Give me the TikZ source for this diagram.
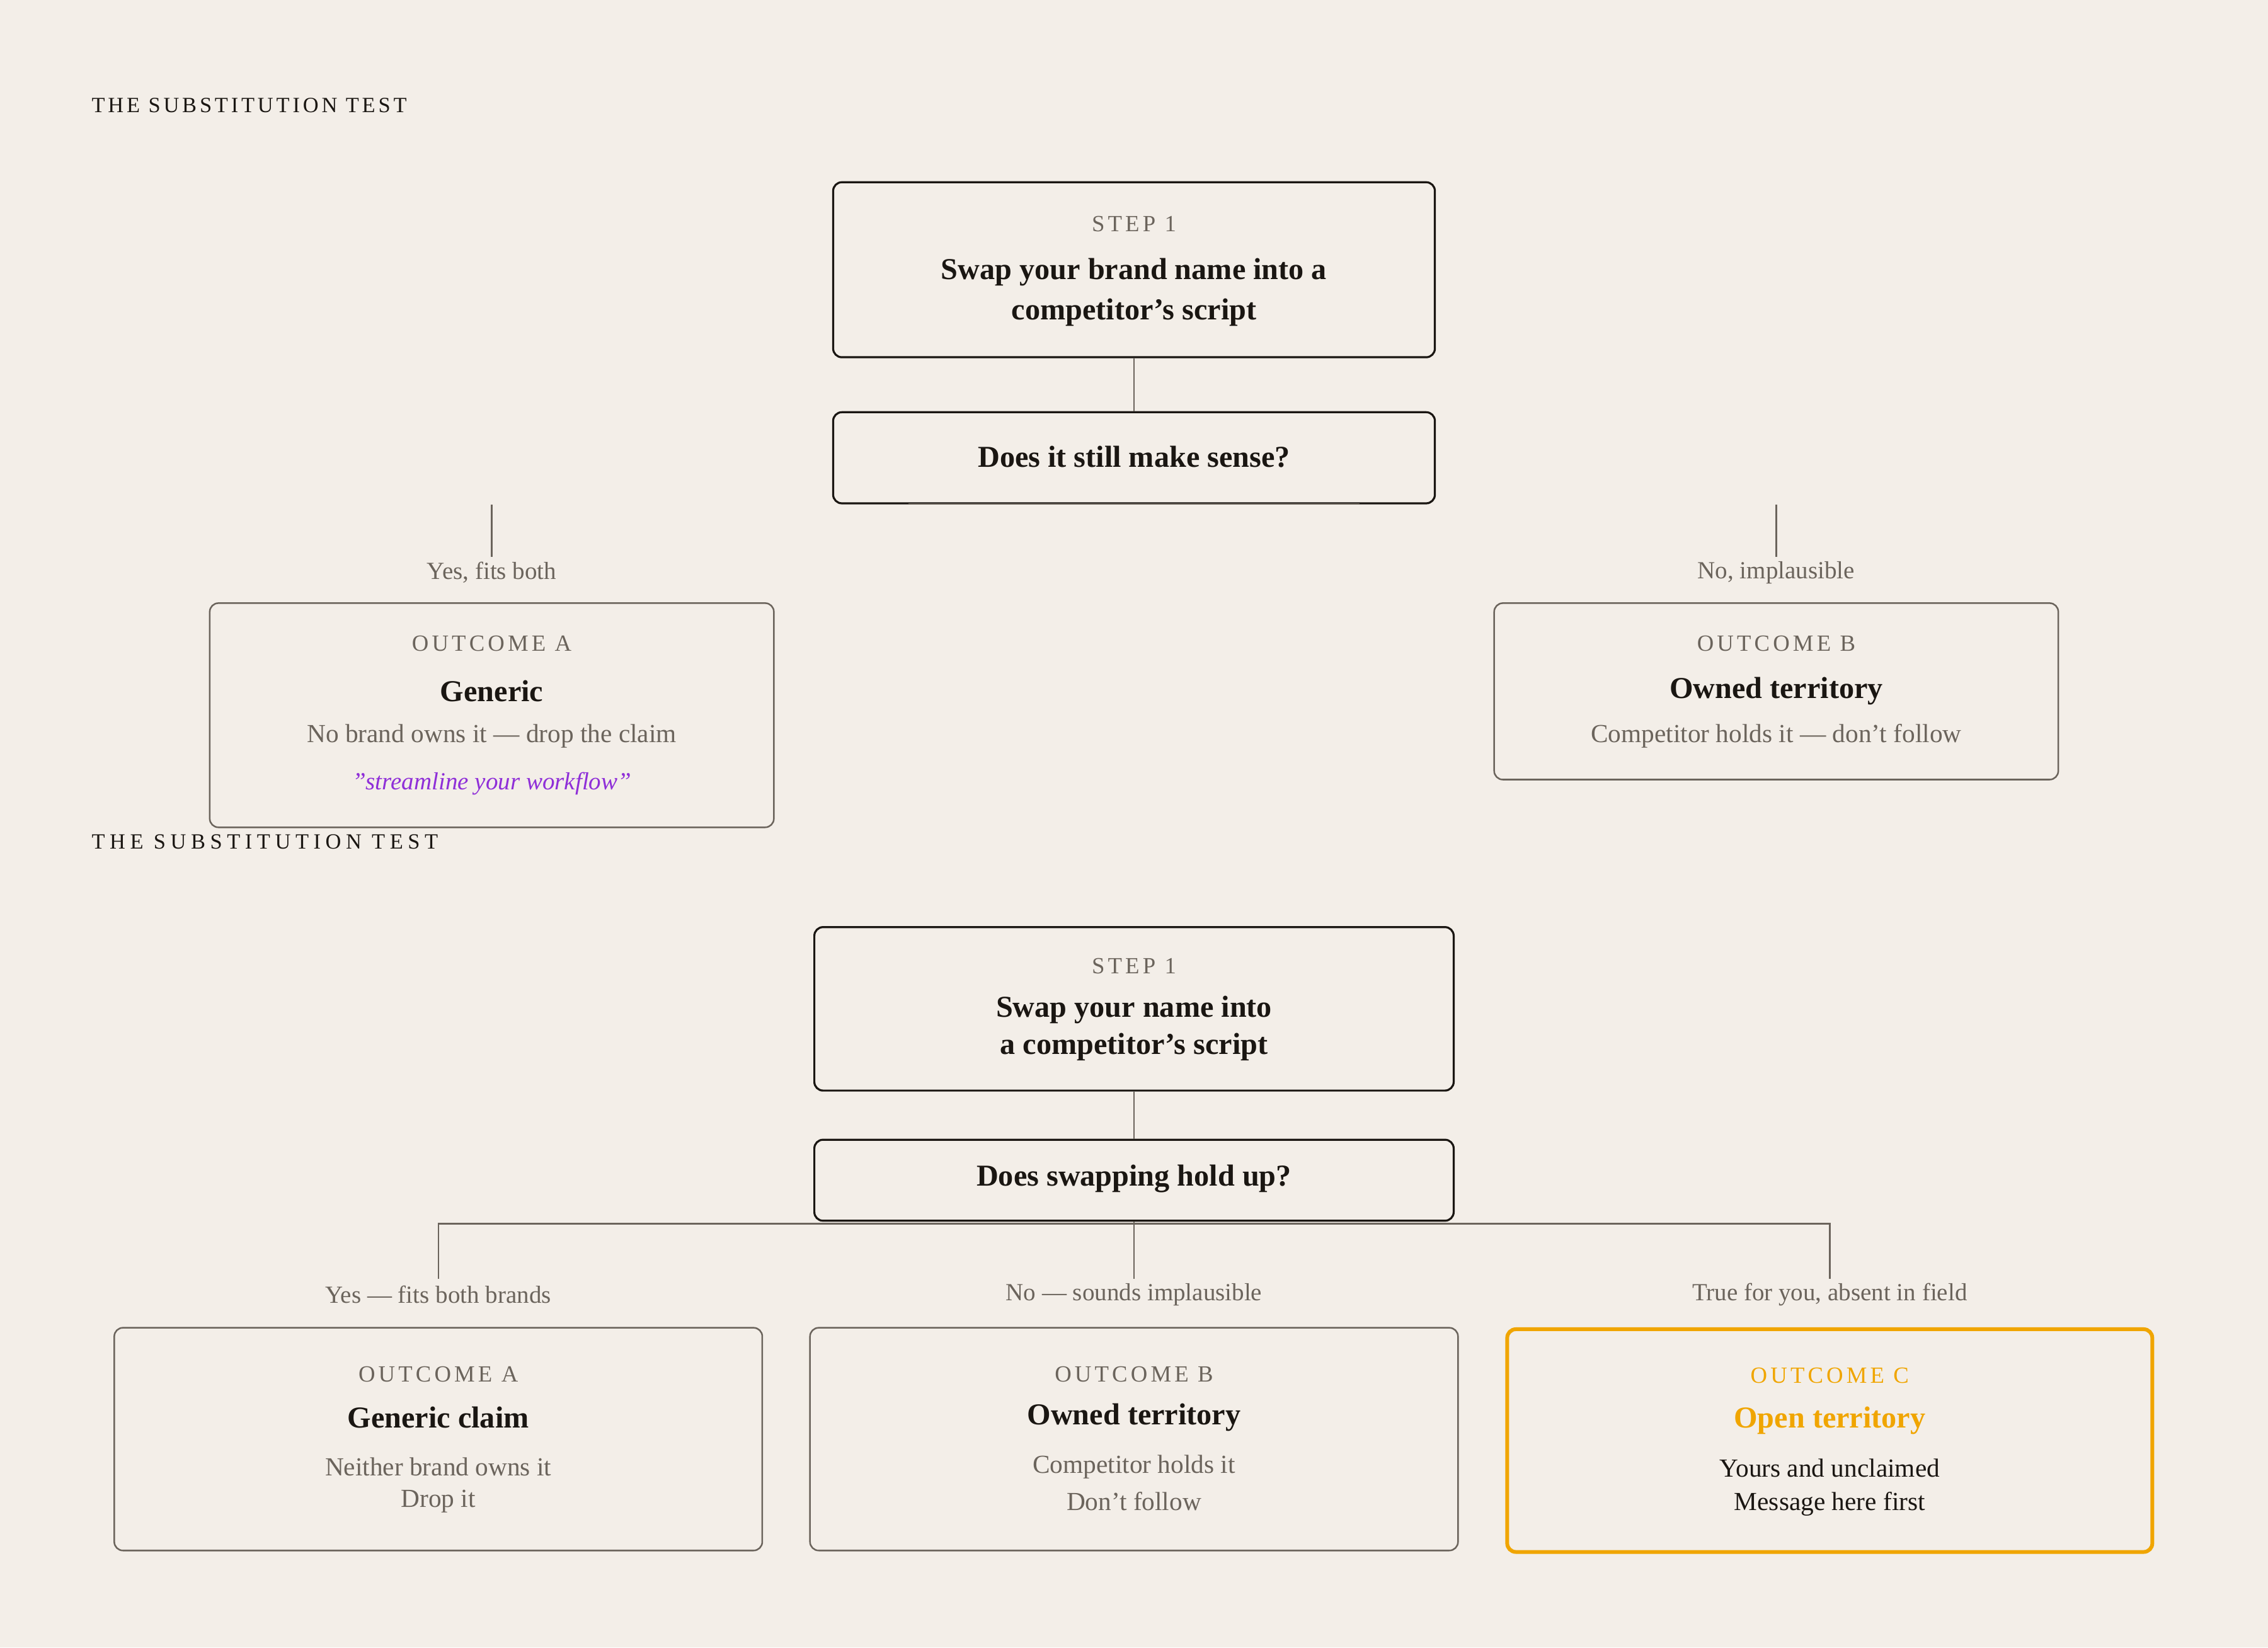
\documentclass[tikz,border=0pt]{standalone}
\usepackage{fontspec}
\setmainfont{Liberation Serif}
\newfontfamily\spaced[LetterSpace=14]{Liberation Serif}
\newfontfamily\spacedw[LetterSpace=22]{Liberation Serif}
\definecolor{bg}{HTML}{F3EEE8}
\definecolor{ink}{HTML}{1A1612}
\definecolor{mute}{HTML}{6B645C}
\definecolor{purp}{HTML}{8F2FD8}
\definecolor{gold}{HTML}{F0A500}
\begin{document}
\begin{tikzpicture}[x=0.5pt,y=-0.5pt,
  box/.style={draw=ink,line width=0.7pt,rounded corners=3pt,inner sep=0pt},
  gbox/.style={draw=mute,line width=0.55pt,rounded corners=3pt,inner sep=0pt},
  obox/.style={draw=gold,line width=1.3pt,rounded corners=3pt,inner sep=0pt},
  lab/.style={inner sep=0pt,font=\spaced\fontsize{8}{9}\selectfont,text=mute},
  head/.style={inner sep=0pt,font=\bfseries\fontsize{10.5}{12}\selectfont,text=ink},
  body/.style={inner sep=0pt,font=\fontsize{9}{10}\selectfont,text=mute},
  edge/.style={inner sep=0pt,font=\fontsize{8.5}{10}\selectfont,text=mute},
  ttl/.style={inner sep=0pt,anchor=west,text=ink,font=\fontsize{7.5}{9}\selectfont},
  ln/.style={draw=mute,line width=0.5pt}]
\fill[bg] (0,0) rectangle (1568,1139);
\useasboundingbox (0,0) rectangle (1568,1139);
% ---- top diagram
\node[ttl,font=\spaced\fontsize{7.5}{9}\selectfont] (t1) at (63,73) {THE SUBSTITUTION TEST};
\node[box,minimum width=208pt,minimum height=60.5pt] (s1) at (784,186.5) {};
\node[lab] (s1l) at (784,155) {STEP 1};
\node[head] (s1a) at (784,188) {Swap your brand name into a};
\node[head] (s1b) at (784,216) {competitor's script};
\node[box,minimum width=208pt,minimum height=31.5pt] (q1) at (784,316.5) {};
\node[head] (q1t) at (784,316) {Does it still make sense?};
\coordinate (u1) at (628,348.5); \coordinate (u2) at (940,348.5);
\draw[ln] (u1) -- (u2);
\draw[ln] (s1.south) -- (q1.north);
\coordinate (la) at (340,349); \coordinate (lb) at (340,385);
\coordinate (ra) at (1228,349); \coordinate (rb) at (1228,385);
\draw[ln] (la) -- (lb); \draw[ln] (ra) -- (rb);
\node[edge] (e1) at (340,396) {Yes, fits both};
\node[edge] (e2) at (1228,396) {No, implausible};
\node[gbox,minimum width=195pt,minimum height=77.5pt] (oa) at (340,494.5) {};
\node[lab] (oal) at (340,445) {OUTCOME A};
\node[head] (oat) at (340,478) {Generic};
\node[body] (oab) at (340,509) {No brand owns it — drop the claim};
\node[body,text=purp,font=\itshape\fontsize{8.5}{10}\selectfont] (oaq) at (340,542) {"streamline your workflow"};
\node[gbox,minimum width=195pt,minimum height=61pt] (ob) at (1228,478) {};
\node[lab] (obl) at (1228,445) {OUTCOME B};
\node[head] (obt) at (1228,478) {Owned territory};
\node[body] (obb) at (1228,509) {Competitor holds it — don't follow};
% ---- bottom diagram
\node[ttl,font=\spacedw\fontsize{7.5}{9}\selectfont] (t2) at (63,582) {THE SUBSTITUTION TEST};
\node[box,minimum width=221pt,minimum height=56.5pt] (s2) at (784,697.5) {};
\node[lab] (s2l) at (784,668) {STEP 1};
\node[head] (s2a) at (784,698) {Swap your name into};
\node[head] (s2b) at (784,724) {a competitor's script};
\node[box,minimum width=221pt,minimum height=28pt] (q2) at (784,816) {};
\node[head] (q2t) at (784,815) {Does swapping hold up?};
\draw[ln] (s2.south) -- (q2.north);
\coordinate (j) at (784,846);
\coordinate (jl) at (303,846); \coordinate (jr) at (1265,846);
\coordinate (dl) at (303,884); \coordinate (dm) at (784,884); \coordinate (dr) at (1265,884);
\draw[ln] (q2.south) -- (j);
\draw[ln] (dl) -- (jl) -- (jr) -- (dr);
\draw[ln] (j) -- (dm);
\node[edge] (f1) at (303,895) {Yes — fits both brands};
\node[edge] (f2) at (784,895) {No — sounds implausible};
\node[edge] (f3) at (1265,895) {True for you, absent in field};
\node[gbox,minimum width=224pt,minimum height=77pt] (ba) at (303,995) {};
\node[lab] (bal) at (303,950) {OUTCOME A};
\node[head] (bat) at (303,980) {Generic claim};
\node[body] (bab1) at (303,1014) {Neither brand owns it};
\node[body] (bab2) at (303,1038) {Drop it};
\node[gbox,minimum width=224pt,minimum height=77pt] (bb) at (784,995) {};
\node[lab] (bbl) at (784,950) {OUTCOME B};
\node[head] (bbt) at (784,980) {Owned territory};
\node[body] (bbb1) at (784,1014) {Competitor holds it};
\node[body] (bbb2) at (784,1038) {Don't follow};
\node[obox,minimum width=223pt,minimum height=77pt] (bc) at (1265,996) {};
\node[lab,text=gold] (bcl) at (1265,951) {OUTCOME C};
\node[head,text=gold] (bct) at (1265,982) {Open territory};
\node[body,text=ink] (bcb1) at (1265,1015) {Yours and unclaimed};
\node[body,text=ink] (bcb2) at (1265,1040) {Message here first};
\end{tikzpicture}
\end{document}
